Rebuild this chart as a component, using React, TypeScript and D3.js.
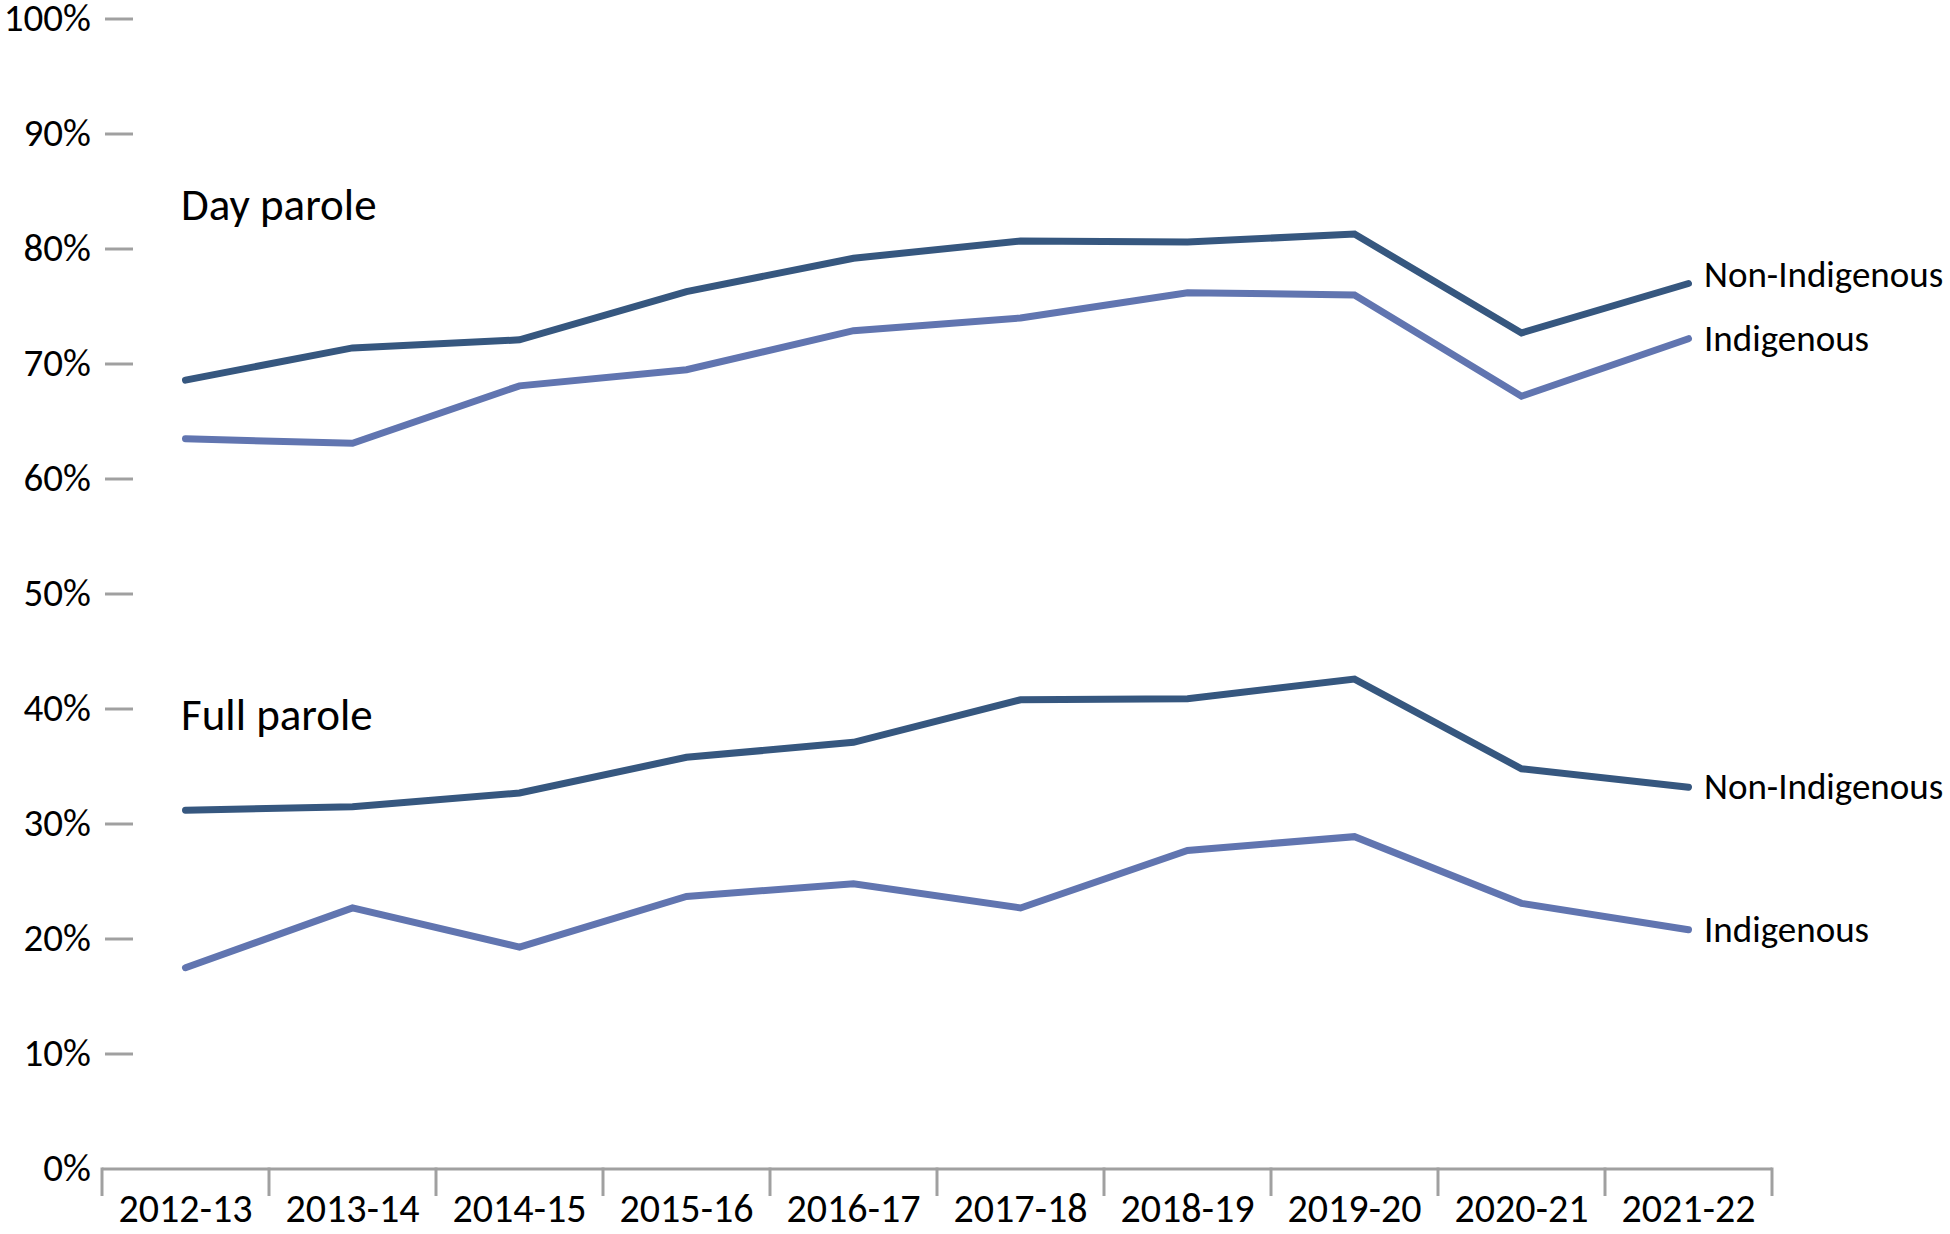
import React, { useEffect, useRef } from "react";
import * as d3 from "d3";

const years = ["2012-13", "2013-14", "2014-15", "2015-16", "2016-17", "2017-18", "2018-19", "2019-20", "2020-21", "2021-22"];
const dayNonIndigenous = [68.6, 71.4, 72.1, 76.3, 79.2, 80.7, 80.6, 81.3, 72.7, 77.0];
const dayIndigenous = [63.5, 63.1, 68.1, 69.5, 72.9, 74.0, 76.2, 76.0, 67.2, 72.2];
const fullNonIndigenous = [31.2, 31.5, 32.7, 35.8, 37.1, 40.8, 40.9, 42.6, 34.8, 33.2];
const fullIndigenous = [17.5, 22.7, 19.3, 23.7, 24.8, 22.7, 27.7, 28.9, 23.1, 20.8];
const yTicks = [0, 10, 20, 30, 40, 50, 60, 70, 80, 90, 100];
const groupTitles = ["Day parole", "Full parole"];
const seriesNames = ["Non-Indigenous", "Indigenous"];

const DARK = "#36577f";
const LIGHT = "#6175b0";
const FONT = "Carlito, Calibri, Lato, sans-serif";

export default function App() {
  const ref = useRef<SVGSVGElement>(null);
  useEffect(() => {
    const svg = d3.select(ref.current);
    svg.selectAll("*").remove();
    const left = 102, right = 1772, top = 19, bottom = 1169;
    const x = d3.scaleBand().domain(years).range([left, right]);
    const y = d3.scaleLinear().domain([0, 100]).range([bottom, top]);
    const cx = (d: string) => (x(d) as number) + x.bandwidth() / 2;

    const g = svg.append("g").attr("font-family", FONT);
    yTicks.forEach((t) => {
      if (t > 0) {
        g.append("line").attr("x1", 105).attr("x2", 133).attr("y1", y(t)).attr("y2", y(t))
          .attr("stroke", "#a0a0a0").attr("stroke-width", 3);
      }
      g.append("text").attr("x", 91).attr("y", y(t)).attr("dy", "0.3em").attr("text-anchor", "end")
        .attr("font-size", 39).attr("fill", "#000").text(`${t}%`);
    });

    g.append("line").attr("x1", left).attr("x2", right).attr("y1", bottom).attr("y2", bottom)
      .attr("stroke", "#a0a0a0").attr("stroke-width", 3);
    const bounds = years.map((d) => x(d) as number).concat([right]);
    bounds.forEach((b) => {
      g.append("line").attr("x1", b).attr("x2", b).attr("y1", bottom - 1.5).attr("y2", bottom + 27)
        .attr("stroke", "#a0a0a0").attr("stroke-width", 3);
    });
    years.forEach((d) => {
      g.append("text").attr("x", cx(d)).attr("y", 1222).attr("text-anchor", "middle")
        .attr("font-size", 40).attr("fill", "#000").text(d);
    });

    const line = d3.line<number>().x((_, i) => cx(years[i])).y((v) => y(v));
    const series = [
      { data: dayNonIndigenous, color: DARK, name: seriesNames[0], shift: -9 },
      { data: dayIndigenous, color: LIGHT, name: seriesNames[1], shift: 0 },
      { data: fullNonIndigenous, color: DARK, name: seriesNames[0], shift: 0 },
      { data: fullIndigenous, color: LIGHT, name: seriesNames[1], shift: 0 },
    ];
    series.forEach((s) => {
      g.append("path").attr("d", line(s.data) as string).attr("fill", "none")
        .attr("stroke", s.color).attr("stroke-width", 7).attr("stroke-linecap", "round")
        .attr("stroke-linejoin", "miter");
      const last = s.data[s.data.length - 1];
      g.append("text").attr("x", 1704).attr("y", y(last) + s.shift).attr("dy", "0.33em")
        .attr("font-size", 37).attr("fill", "#000").text(s.name);
    });

    g.append("text").attr("x", 181).attr("y", 220).attr("font-size", 45).attr("fill", "#000").text(groupTitles[0]);
    g.append("text").attr("x", 181).attr("y", 730).attr("font-size", 45).attr("fill", "#000").text(groupTitles[1]);
  }, []);
  return (
    <svg ref={ref} width={1950} height={1234} style={{ display: "block", position: "absolute", left: 0, top: 0, background: "#fff" }} />
  );
}
